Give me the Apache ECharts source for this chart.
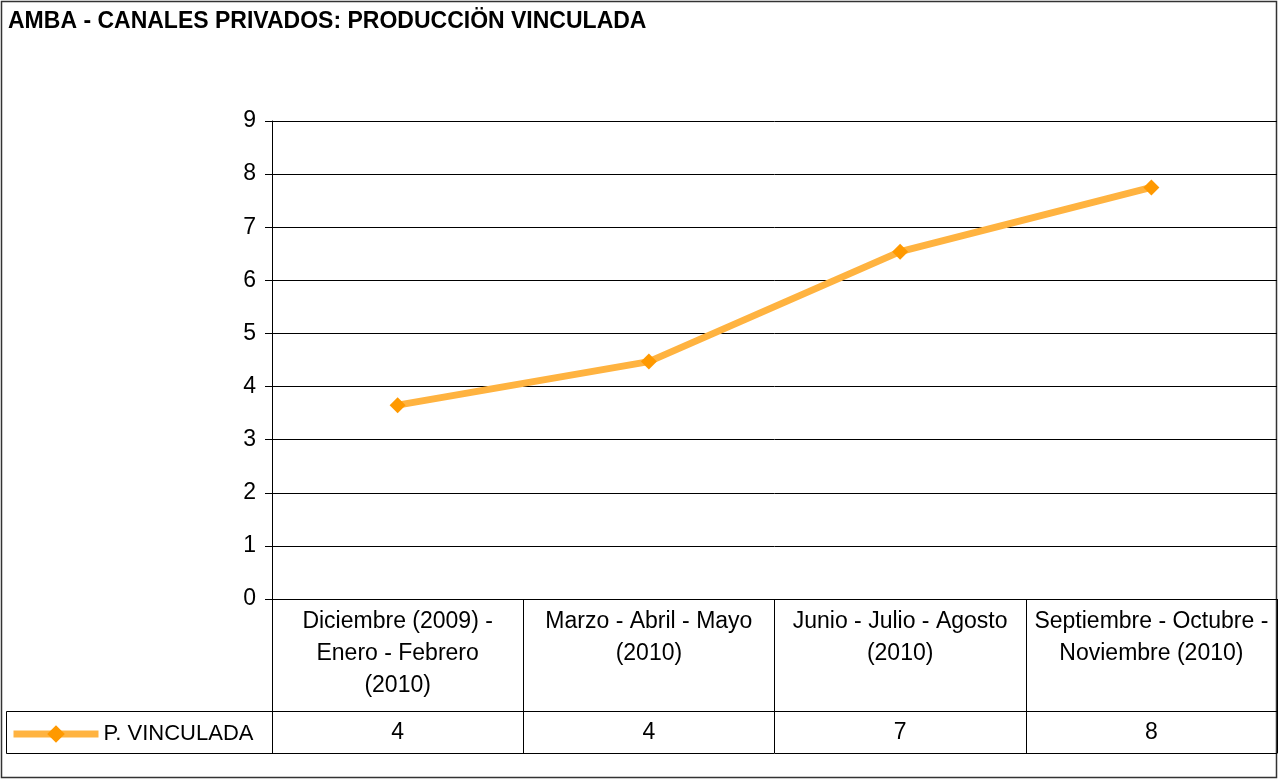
<!DOCTYPE html>
<html>
<head>
<meta charset="utf-8">
<title>AMBA - Canales privados</title>
<script src="https://cdn.jsdelivr.net/npm/echarts@6/dist/echarts.min.js"></script>
<style>
  html, body { margin: 0; padding: 0; background: #fff; }
  #main { width: 1278px; height: 780px; }
</style>
</head>
<body>
<div id="main"></div>
<script>
var titulo = 'AMBA - CANALES PRIVADOS: PRODUCCIÖN VINCULADA';
var serieNombre = 'P. VINCULADA';
var categorias = [
  'Diciembre (2009) -\nEnero - Febrero\n(2010)',
  'Marzo - Abril - Mayo\n(2010)',
  'Junio - Julio - Agosto\n(2010)',
  'Septiembre - Octubre -\nNoviembre (2010)'
];
var valores = [3.65, 4.47, 6.54, 7.75];
var yTicks = [0, 1, 2, 3, 4, 5, 6, 7, 8, 9];

var fuente = '"Liberation Sans", Arial, sans-serif';
var gLeft = 272, gTop = 121, gWidth = 1005, gHeight = 478;
var filaCat = 112, filaVal = 42;

var myChart = echarts.init(document.getElementById('main'));

var option = {
  backgroundColor: '#fff',
  animation: false,
  textStyle: { fontFamily: fuente, color: '#000' },
  title: {
    text: titulo,
    left: 3, top: 5,
    textStyle: { fontFamily: fuente, fontWeight: 'bold', fontSize: 23, color: '#000' }
  },
  legend: {
    data: [{
      name: serieNombre,
      itemStyle: { color: '#FF9900' },
      lineStyle: { color: '#FFB340', width: 7 }
    }],
    left: 5, top: 718,
    itemWidth: 85, itemHeight: 22, itemGap: 5,
    textStyle: { fontFamily: fuente, fontSize: 22, color: '#000' }
  },
  grid: { left: gLeft, top: gTop, width: gWidth, height: gHeight },
  xAxis: [
    {
      type: 'category',
      data: categorias,
      boundaryGap: true,
      axisLine: { lineStyle: { color: '#000', width: 1 } },
      axisTick: { show: true, interval: 0, length: filaCat + filaVal, lineStyle: { color: '#000' } },
      axisLabel: {
        interval: 0, margin: 7, fontSize: 23, lineHeight: 32,
        color: '#000', fontFamily: fuente
      }
    },
    {
      type: 'category',
      data: valores.map(function (v) { return Math.round(v); }),
      position: 'bottom',
      offset: filaCat,
      axisLine: { lineStyle: { color: '#000', width: 1 } },
      axisTick: { show: false },
      axisLabel: { interval: 0, margin: 10, fontSize: 23, color: '#000', fontFamily: fuente }
    },
    {
      type: 'category',
      data: categorias.map(function () { return ''; }),
      position: 'bottom',
      offset: filaCat + filaVal,
      axisLine: { lineStyle: { color: '#000', width: 1 } },
      axisTick: { show: false },
      axisLabel: { show: false }
    }
  ],
  yAxis: {
    type: 'value',
    min: yTicks[0], max: yTicks[yTicks.length - 1], interval: 1,
    axisLine: { show: true, lineStyle: { color: '#000', width: 1 } },
    axisTick: { show: true, length: 7, lineStyle: { color: '#000' } },
    axisLabel: { margin: 16, fontSize: 23, color: '#000', fontFamily: fuente },
    splitLine: { lineStyle: { color: '#000', width: 1 } }
  },
  graphic: [
    {
      type: 'rect',
      shape: { x: 1.5, y: 1.5, width: 1275, height: 776 },
      style: { fill: 'none', stroke: '#333', lineWidth: 1.5 },
      silent: true
    },
    {
      type: 'rect',
      shape: { x: 6.5, y: gTop + gHeight + filaCat + 0.5, width: gLeft - 6, height: filaVal },
      style: { fill: 'none', stroke: '#000', lineWidth: 1 },
      silent: true
    }
  ],
  series: [
    {
      name: serieNombre,
      type: 'line',
      data: valores,
      symbol: 'diamond',
      symbolSize: 16,
      itemStyle: { color: '#FF9900' },
      lineStyle: { color: '#FFB340', width: 7 },
      z: 5
    }
  ]
};
myChart.setOption(option);
</script>
</body>
</html>
